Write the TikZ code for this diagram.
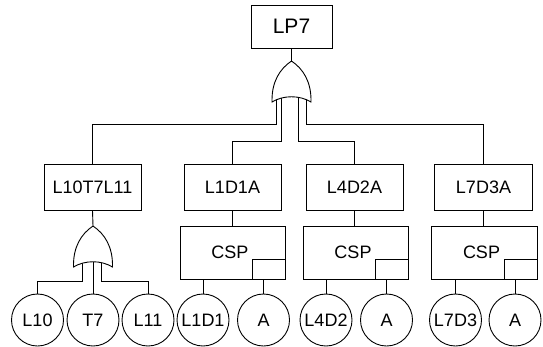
\documentclass[tikz,border=0pt]{standalone}
\usepackage{fontspec}
\setmainfont{Liberation Sans}
\tikzset{
  box/.style={draw, rectangle, inner sep=0pt, font=\fontsize{18}{20}\selectfont},
  evt/.style={draw, circle, minimum size=52pt, inner sep=0pt, font=\fontsize{18}{20}\selectfont},
  lbl/.style={inner sep=0pt, font=\fontsize{18}{20}\selectfont},
  subbox/.style={draw, rectangle, inner sep=0pt, minimum width=33pt, minimum height=20pt, anchor=south east},
  orgate/.pic={
    \draw[fill=white] (0,-41) .. controls (-12,-33) and (-19.5,-20) .. (-19.5,-2) -- (-19.5,0)
      .. controls (-8,-7) and (8,-7) .. (19.5,0) -- (19.5,-2)
      .. controls (19.5,-20) and (12,-33) .. (0,-41) -- cycle;
    \coordinate (-out) at (0,-41);
  }
}
\begin{document}
\begin{tikzpicture}[x=1pt,y=-1pt,line width=0.9pt]
\useasboundingbox (0,0) rectangle (543,346);
% boxes
\node[box, minimum width=81pt, minimum height=43pt, font=\fontsize{21}{24}\selectfont] (lp7) at (291.5,26.5) {LP7};
\node[box, minimum width=97pt, minimum height=46pt] (l10) at (92.5,187) {L10T7L11};
\node[box, minimum width=97pt, minimum height=46pt] (l1a) at (232.5,187) {L1D1A};
\node[box, minimum width=97pt, minimum height=46pt] (l4a) at (354.5,187) {L4D2A};
\node[box, minimum width=98pt, minimum height=46pt] (l7a) at (483.5,187) {L7D3A};
% CSP boxes
\node[box, minimum width=105pt, minimum height=53pt] (csp1) at (232.5,252.5) {};
\node[box, minimum width=105pt, minimum height=53pt] (csp2) at (355.5,252.5) {};
\node[box, minimum width=106pt, minimum height=53pt] (csp3) at (484,252.5) {};
\node[subbox] (sq1) at (csp1.south east) {};
\node[subbox] (sq2) at (csp2.south east) {};
\node[subbox] (sq3) at (csp3.south east) {};
\node[lbl] (t1) at ([xshift=-2.5pt,yshift=0.5pt]csp1.center) {CSP};
\node[lbl] (t2) at ([xshift=-2.5pt,yshift=0.5pt]csp2.center) {CSP};
\node[lbl] (t3) at ([xshift=-2.5pt,yshift=0.5pt]csp3.center) {CSP};
% events
\node[evt] (e1) at (37.5,320) {L10};
\node[evt] (e2) at (93,320) {T7};
\node[evt] (e3) at (148,320) {L11};
\node[evt] (e4) at (203,320) {L1D1};
\node[evt] (e5) at (263.5,320) {A};
\node[evt] (e6) at (326,320) {L4D2};
\node[evt] (e7) at (386.5,320) {A};
\node[evt] (e8) at (455.5,320) {L7D3};
\node[evt] (e9) at (515,320) {A};
% gate inputs and buses
\coordinate (g1i1) at (276,92);
\coordinate (g1i2) at (281.7,92);
\coordinate (g1i3) at (298.3,92);
\coordinate (g1i4) at (306.7,92);
\coordinate (bus1) at (0,124.5);
\coordinate (bus2) at (0,141.7);
\coordinate (g2i1) at (82.7,258);
\coordinate (g2i2) at (93,258);
\coordinate (g2i3) at (101.7,258);
\coordinate (bus3) at (0,281.7);
% wires
\draw (g1i1) -- (g1i1 |- bus1) -| (l10.north);
\draw (g1i2) -- (g1i2 |- bus2) -| (l1a.north);
\draw (g1i3) -- (g1i3 |- bus2) -| (l4a.north);
\draw (g1i4) -- (g1i4 |- bus1) -| (l7a.north);
\draw (g2i1) -- (g2i1 |- bus3) -| (e1.north);
\draw (g2i2) -- (e2.north);
\draw (g2i3) -- (g2i3 |- bus3) -| (e3.north);
\draw (l1a.south) -- (l1a.south |- csp1.north);
\draw (l4a.south) -- (l4a.south |- csp2.north);
\draw (l7a.south) -- (l7a.south |- csp3.north);
\draw (e4.north) -- (e4.north |- csp1.south);
\draw (e5.north) -- (e5.north |- csp1.south);
\draw (e6.north) -- (e6.north |- csp2.south);
\draw (e7.north) -- (e7.north |- csp2.south);
\draw (e8.north) -- (e8.north |- csp3.south);
\draw (e9.north) -- (e9.north |- csp3.south);
% gates
\pic (g1) at (291.5,102) {orgate};
\pic (g2) at (93,267) {orgate};
\draw (lp7.south) -- (g1-out);
\draw (l10.south) -- (g2-out);
\end{tikzpicture}
\end{document}
